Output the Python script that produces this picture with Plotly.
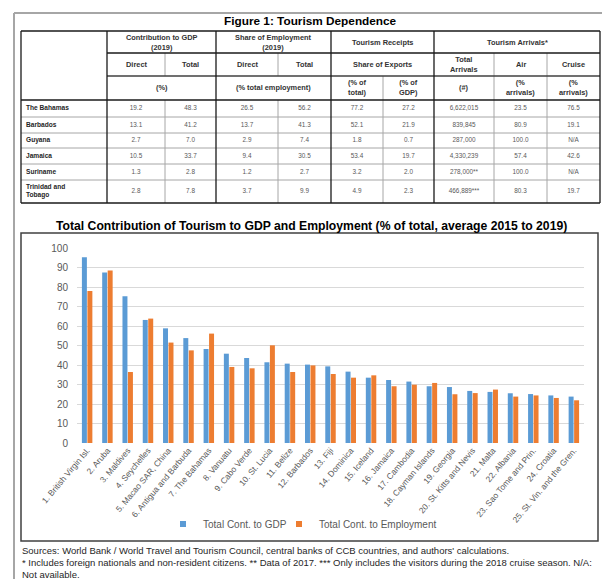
import plotly.graph_objects as go

# ---------------- data: table ----------------
table_countries = ["The Bahamas", "Barbados", "Guyana", "Jamaica", "Suriname", "Trinidad and<br>Tobago"]
gdp_direct = [19.2, 13.1, 2.7, 10.5, 1.3, 2.8]
gdp_total = [48.3, 41.2, 7.0, 33.7, 2.8, 7.8]
emp_direct = [26.5, 13.7, 2.9, 9.4, 1.2, 3.7]
emp_total = [56.2, 41.3, 7.4, 30.5, 2.7, 9.9]
receipts_total = [77.2, 52.1, 1.8, 53.4, 3.2, 4.9]
receipts_gdp = [27.2, 21.9, 0.7, 19.7, 2.0, 2.3]
arrivals_total = [6622015, 839845, 287000, 4330239, 278000, 466889]
arrivals_mark = ["", "", "", "", "**", "***"]
arrivals_air = [23.5, 80.9, 100.0, 57.4, 100.0, 80.3]
arrivals_cruise = [76.5, 19.1, None, 42.6, None, 19.7]

# ---------------- data: bar chart ----------------
chart_countries = [
    "1. British Virgin Isl.", "2. Aruba", "3. Maldives", "4. Seychelles",
    "5. Macao SAR, China", "6. Antigua and Barbuda", "7. The Bahamas",
    "8. Vanuatu", "9. Cabo Verde", "10. St. Lucia", "11. Belize",
    "12. Barbados", "13. Fiji", "14. Dominica", "15. Iceland", "16. Jamaica",
    "17. Cambodia", "18. Cayman Islands", "19. Georgia",
    "20. St. Kitts and Nevis", "21. Malta", "22. Albania",
    "23. Sao Tome and Prin.", "24. Croatia", "25. St. Vin. and the Gren.",
]
gdp_share = [95.2, 87.4, 75.2, 63.1, 58.8, 53.8, 48.2, 45.8, 43.6, 41.4, 40.7,
             40.2, 39.3, 36.6, 33.5, 32.3, 31.5, 29.1, 28.7, 26.7, 26.2, 25.5,
             25.1, 24.4, 23.8]
emp_share = [77.9, 88.4, 36.4, 63.8, 51.5, 47.5, 56.1, 39.0, 38.3, 50.1, 36.4,
             39.8, 35.4, 33.5, 34.7, 29.1, 29.9, 30.8, 25.0, 25.6, 27.4, 23.8,
             24.4, 23.1, 21.9]
y_ticks = [0, 10, 20, 30, 40, 50, 60, 70, 80, 90, 100]

# ---------------- layout helpers ----------------
W, H = 602, 579
def X(p):
    return p / W
def Y(p):
    return 1 - p / H

FONT = "Liberation Sans, Arial, sans-serif"
BLUE = "#5B9BD5"
ORANGE = "#ED7D31"
DARK = "#1a1a1a"
GRAY = "#A6A6A6"

# table geometry (pixels)
col_px = [21, 107, 165, 216, 278, 331, 383, 434, 494, 547, 600]
row_px = [100, 117, 133, 148, 164, 180, 203]
TX0, TX1 = col_px[0], col_px[-1]
TY0, TY1 = row_px[0], row_px[-1]

def f1(v):
    return "N/A" if v is None else f"{v:.1f}"

columns = [
    [f"<b>{c}</b>" for c in table_countries],
    [f1(v) for v in gdp_direct],
    [f1(v) for v in gdp_total],
    [f1(v) for v in emp_direct],
    [f1(v) for v in emp_total],
    [f1(v) for v in receipts_total],
    [f1(v) for v in receipts_gdp],
    [f"{v:,}{m}" for v, m in zip(arrivals_total, arrivals_mark)],
    [f1(v) for v in arrivals_air],
    [f1(v) for v in arrivals_cruise],
]

row_centers = [(a + b) / 2 - TY0 for a, b in zip(row_px[:-1], row_px[1:])]

fig = go.Figure()

# table body: one text trace per column on a hidden axis pair
for j, col in enumerate(columns):
    if j == 0:
        xpos, tpos, size, color = col_px[0] + 5 - TX0, "middle right", 6.6, "#262626"
    else:
        xpos, tpos, size, color = (col_px[j] + col_px[j + 1]) / 2 - TX0, "middle center", 6.4, "#595959"
    fig.add_trace(go.Scatter(
        x=[xpos] * len(col), y=row_centers, mode="text", text=col,
        textposition=tpos, textfont=dict(family=FONT, size=size, color=color),
        xaxis="x2", yaxis="y2", hoverinfo="skip", showlegend=False,
    ))

fig.add_trace(go.Bar(
    x=chart_countries, y=gdp_share, name="Total Cont. to GDP",
    marker=dict(color=BLUE, line=dict(width=0)), showlegend=False,
))
fig.add_trace(go.Bar(
    x=chart_countries, y=emp_share, name="Total Cont. to Employment",
    marker=dict(color=ORANGE, line=dict(width=0)), showlegend=False,
))
# legend entries with small square keys
fig.add_trace(go.Scatter(
    x=[None], y=[None], mode="markers", name="Total Cont. to GDP",
    marker=dict(symbol="square", size=6, color=BLUE), legend="legend",
))
fig.add_trace(go.Scatter(
    x=[None], y=[None], mode="markers", name="Total Cont. to Employment",
    marker=dict(symbol="square", size=6, color=ORANGE), legend="legend2",
))

# ---------------- decorations ----------------
shapes = []
def line(x0, y0, x1, y1, color="#000000", width=1):
    shapes.append(dict(type="line", xref="paper", yref="paper",
                       x0=X(x0), y0=Y(y0), x1=X(x1), y1=Y(y1),
                       line=dict(color=color, width=width)))

# outer page frame
line(14, 13, 602, 13, "#A6A6A6", 2)
line(14, 13, 14, 579, "#A6A6A6", 2)

# table body grid (light)
for yy in row_px[1:-1]:
    line(TX0, yy, TX1, yy, GRAY, 1)
for xx in [165, 278, 383, 494, 547]:
    line(xx, TY0, xx, TY1, GRAY, 1)
# header grid
for xx in [165, 278]:
    line(xx, 53, xx, 76, GRAY, 1)
line(383, 76, 383, 100, GRAY, 1)
for xx in [494, 547]:
    line(xx, 53, xx, 100, GRAY, 1)
for x0, x1, yy, c in [(21, 600, 31, DARK), (107, 600, 53, DARK), (107, 600, 76, "#404040"),
                      (21, 600, 100, DARK), (21, 600, 203, DARK)]:
    line(x0, yy, x1, yy, c, 1.3)
for xx in [21, 107, 216, 331, 434, 600]:
    line(xx, 31, xx, 203, DARK, 1.3)

# chart box
shapes.append(dict(type="rect", xref="paper", yref="paper",
                   x0=X(21), y0=Y(541), x1=X(598), y1=Y(233),
                   line=dict(color="#404040", width=1.5)))

annotations = []
def text(t, x, y, size, color="#000000", xanchor="center", yanchor="middle", bold=False):
    if bold:
        t = f"<b>{t}</b>"
    annotations.append(dict(text=t, x=X(x), y=Y(y), xref="paper", yref="paper",
                            xanchor=xanchor, yanchor=yanchor, showarrow=False,
                            font=dict(family=FONT, size=size, color=color)))

text("Figure 1: Tourism Dependence", 310, 21, 11.8, bold=True)

header_cells = [
    ("Contribution to GDP<br>(2019)", 107, 216, 31, 53),
    ("Share of Employment<br>(2019)", 216, 331, 31, 53),
    ("Tourism Receipts", 331, 434, 31, 53),
    ("Tourism Arrivals*", 434, 600, 31, 53),
    ("Direct", 107, 165, 53, 76), ("Total", 165, 216, 53, 76),
    ("Direct", 216, 278, 53, 76), ("Total", 278, 331, 53, 76),
    ("Share of Exports", 331, 434, 53, 76),
    ("Total<br>Arrivals", 434, 494, 53, 76), ("Air", 494, 547, 53, 76),
    ("Cruise", 547, 600, 53, 76),
    ("(%)", 107, 216, 76, 100), ("(% total employment)", 216, 331, 76, 100),
    ("(% of<br>total)", 331, 383, 76, 100), ("(% of<br>GDP)", 383, 434, 76, 100),
    ("(#)", 434, 494, 76, 100), ("(%<br>arrivals)", 494, 547, 76, 100),
    ("(%<br>arrivals)", 547, 600, 76, 100),
]
for t, x0, x1, y0, y1 in header_cells:
    text(t, (x0 + x1) / 2, (y0 + y1) / 2, 7.4, "#333333", bold=True)

text("Total Contribution of Tourism to GDP and Employment (% of total, average 2015 to 2019)",
     311, 226, 12.2, bold=True)

footer = [
    "Sources: World Bank / World Travel and Tourism Council, central banks of CCB countries, and authors' calculations.",
    "* Includes foreign nationals and non-resident citizens. ** Data of 2017. *** Only includes the visitors during the 2018 cruise season. N/A:",
    "Not available.",
]
for i, t in enumerate(footer):
    text(t, 20, 550 + 12 * i, 9.5, "#262626", xanchor="left")

fig.update_layout(
    width=W, height=H,
    margin=dict(l=0, r=0, t=0, b=0),
    paper_bgcolor="white", plot_bgcolor="white",
    font=dict(family=FONT, color="#595959"),
    barmode="group", bargap=0.46, bargroupgap=0.09,
    xaxis=dict(domain=[X(77), X(584)], tickangle=-50, showgrid=False,
               showline=False, ticks="", tickfont=dict(size=8.4, color="#595959"),
               automargin=False),
    yaxis=dict(domain=[Y(443), Y(248)], range=[0, 100], tickvals=y_ticks,
               showgrid=True, gridcolor="#D9D9D9", gridwidth=1, zeroline=False,
               showline=False, ticks="", ticklabelstandoff=8,
               tickfont=dict(size=10, color="#595959"), automargin=False),
    xaxis2=dict(domain=[X(TX0), X(TX1)], range=[0, TX1 - TX0], anchor="y2",
                visible=False, fixedrange=True),
    yaxis2=dict(domain=[Y(TY1), Y(TY0)], range=[TY1 - TY0, 0], anchor="x2",
                visible=False, fixedrange=True),
    legend=dict(x=X(163), y=Y(524), xanchor="left", yanchor="middle",
                orientation="h", itemwidth=30, bgcolor="rgba(0,0,0,0)",
                font=dict(size=10, color="#595959")),
    legend2=dict(x=X(279), y=Y(524), xanchor="left", yanchor="middle",
                 orientation="h", itemwidth=30, bgcolor="rgba(0,0,0,0)",
                 font=dict(size=10, color="#595959")),
    shapes=shapes,
    annotations=annotations,
)

fig.write_html("out.html", config={"displayModeBar": False},
               post_script="document.body.style.margin='0';")
